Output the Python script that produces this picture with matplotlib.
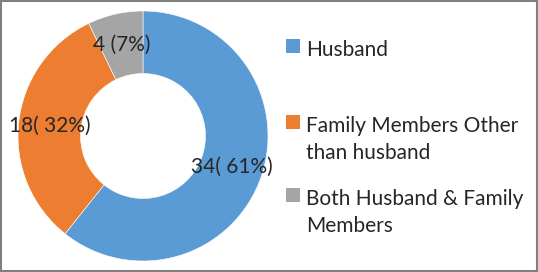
import matplotlib
matplotlib.use("Agg")
import matplotlib.pyplot as plt
from matplotlib.patches import Rectangle
import numpy as np

# data
labels = ["Husband", "Family Members Other\nthan husband", "Both Husband & Family\nMembers"]
counts = [34, 18, 4]
value_labels = ["34( 61%)", "18( 32%)", "4 (7%)"]
colors = ["#5B9BD5", "#ED7D31", "#A5A5A5"]

plt.rcParams['font.family'] = ['Lato', 'DejaVu Sans']
txt_color = "#262626"

fig = plt.figure(figsize=(5.38, 2.72), dpi=100)
ax = fig.add_axes([18/538, 11/272, 250/538, 250/272])

wedges, _ = ax.pie(counts, colors=colors, startangle=90, counterclock=False,
                   radius=1.0, wedgeprops=dict(width=0.5, edgecolor="white", linewidth=0.4))
ax.set_xlim(-1, 1)
ax.set_ylim(-1, 1)
ax.set_aspect("equal")
ax.axis("off")

# value labels at the middle of each ring segment
for w, lab in zip(wedges, value_labels):
    ang = np.deg2rad((w.theta1 + w.theta2) / 2)
    r = 0.75
    ax.text(r*np.cos(ang), r*np.sin(ang), lab, ha="center", va="center",
            fontsize=15, color=txt_color, clip_on=False)

# legend drawn by hand so the square sits on the first line
leg_base = [56, 132, 205]
pitch = 27
for y, lab, c in zip(leg_base, labels, colors):
    fig.patches.append(Rectangle((286/538, 1 - (y - 3)/272), 14/538, 14/272,
                                 transform=fig.transFigure, facecolor=c, edgecolor="none"))
    for i, line in enumerate(lab.split("\n")):
        fig.text(306/538, 1 - (y + i*pitch)/272, line, ha="left", va="baseline",
                 fontsize=15, color=txt_color)

# grey frame round the picture
fig.patches.append(Rectangle((0.001, 0.002), 0.997, 0.995, transform=fig.transFigure,
                             fill=False, edgecolor="#808080", linewidth=1.5))

fig.savefig("out.png", dpi=100)
